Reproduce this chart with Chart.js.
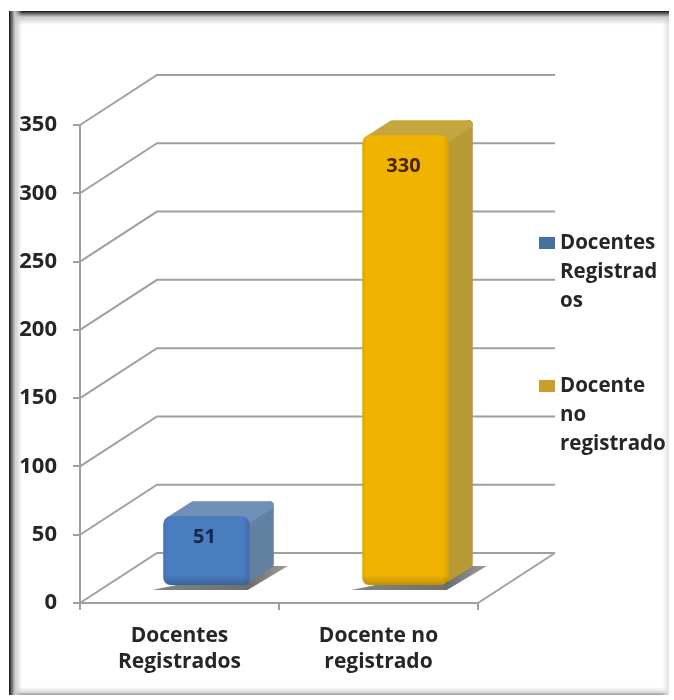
<!DOCTYPE html>
<html>
<head>
<meta charset="utf-8">
<script src="https://cdn.jsdelivr.net/npm/chart.js@4"></script>
<style>
    html, body { margin: 0; padding: 0; background: #fff; }
    #frame {
        position: absolute; left: 9px; top: 11px; width: 660px; height: 684px;
        background:
            linear-gradient(to right, #111 0, #555 2px, #ccc 6px, rgba(255,255,255,0) 13px),
            linear-gradient(to bottom, #111 0, #555 2px, #ccc 6px, rgba(255,255,255,0) 14px),
            linear-gradient(to left, #e4e4e4 0, rgba(255,255,255,0) 7px),
            linear-gradient(to top, #999 0, #ddd 3px, rgba(255,255,255,0) 8px),
            #fff;
    }
    #myChart { position: absolute; left: 0; top: 0; filter: blur(0.5px); }
</style>
</head>
<body>
<div id="frame"></div>
<canvas id="myChart" width="674" height="700"></canvas>
<script>
const categories = [['Docentes', 'Registrados'], ['Docente no', 'registrado']];
const values = [51, 330];
const yTicks = [0, 50, 100, 150, 200, 250, 300, 350];
const legendLabels = [['Docentes', 'Registrad', 'os'], ['Docente', 'no', 'registrado']];

const frontColors = ['#4a7cc0', '#f0b400'];
const sideColors = ['#62809f', '#b89a35'];
const topColors = ['#6f8fb8', '#c4a63f'];
const swatchColors = ['#47709f', '#c89f2c'];
const labelColors = ['#14284a', '#4a2400'];
const labelDrop = [21, 31];

const textColor = '#262626';
const gridColor = '#a0a0a0';
const fontName = '"Open Sans"';

// depth of the box, and where the bars stand on the floor
const wallX = 77, wallY = -50;
const barX = 27, barY = -17;
const sideX = 25, sideY = -16;

function roundedSide(ctx, pts) {
    ctx.beginPath();
    ctx.moveTo(pts[0][0], pts[0][1]);
    for (let i = 1; i < pts.length; i++) ctx.lineTo(pts[i][0], pts[i][1]);
    ctx.closePath();
    ctx.lineJoin = 'round';
    ctx.lineWidth = 8;
    ctx.stroke();
    ctx.fill();
}

const box3d = {
    id: 'box3d',
    beforeDatasetsDraw(chart) {
        const ctx = chart.ctx, a = chart.chartArea, y = chart.scales.y;
        ctx.save();
        // walls
        ctx.strokeStyle = gridColor;
        ctx.lineWidth = 2;
        y.ticks.forEach((t) => {
            const py = y.getPixelForValue(t.value);
            ctx.beginPath();
            ctx.moveTo(a.left, py);
            ctx.lineTo(a.left + wallX, py + wallY);
            ctx.lineTo(a.right + wallX, py + wallY);
            ctx.stroke();
        });
        ctx.beginPath();
        ctx.moveTo(a.right, a.bottom);
        ctx.lineTo(a.right + wallX, a.bottom + wallY);
        ctx.stroke();

        // floor shadows and the sides of the bars
        const bars = chart.getDatasetMeta(0).data;
        bars.forEach((b, i) => {
            const l = b.x - b.width / 2 + barX, r = b.x + b.width / 2 + barX;
            const t = b.y + barY, f = b.base + barY;
            const sh = ctx.createLinearGradient(l, 0, r + 36, 0);
            sh.addColorStop(0, '#7d867c');
            sh.addColorStop(0.7, '#6e6e6e');
            sh.addColorStop(1, '#9a9a9a');
            ctx.fillStyle = sh;
            ctx.beginPath();
            ctx.moveTo(l - 11, f + 5);
            ctx.lineTo(r - 2, f + 5);
            ctx.lineTo(r + 38, f - 19);
            ctx.lineTo(r + 20, f - 19);
            ctx.closePath();
            ctx.fill();

            ctx.fillStyle = sideColors[i];
            ctx.strokeStyle = sideColors[i];
            roundedSide(ctx, [[r - 5, t + 5], [r - 5 + sideX, t + 5 + sideY], [r - 5 + sideX, f - 5 + sideY], [r - 5, f - 5]]);
            ctx.fillStyle = topColors[i];
            ctx.strokeStyle = topColors[i];
            roundedSide(ctx, [[l + 5, t + 5], [l + 5 + sideX, t + 5 + sideY], [r - 5 + sideX, t + 5 + sideY], [r - 5, t + 5]]);
        });
        ctx.restore();
        ctx.save();
        ctx.translate(barX, barY);
    },
    afterDatasetsDraw(chart) {
        const ctx = chart.ctx;
        const bars = chart.getDatasetMeta(0).data;
        // soft bevel on the front faces
        bars.forEach((b) => {
            const l = b.x - b.width / 2, w = b.width;
            const g = ctx.createLinearGradient(l, 0, l + w, 0);
            g.addColorStop(0, 'rgba(0,0,0,0.06)');
            g.addColorStop(0.06, 'rgba(0,0,0,0)');
            g.addColorStop(0.92, 'rgba(0,0,0,0)');
            g.addColorStop(1, 'rgba(0,0,0,0.1)');
            ctx.fillStyle = g;
            ctx.beginPath();
            ctx.roundRect(l, b.y, w, b.base - b.y, 8);
            ctx.fill();
            const g2 = ctx.createLinearGradient(0, b.base - 10, 0, b.base);
            g2.addColorStop(0, 'rgba(0,0,0,0)');
            g2.addColorStop(1, 'rgba(0,0,0,0.2)');
            ctx.fillStyle = g2;
            ctx.beginPath();
            ctx.roundRect(l, b.base - 10, w, 10, 8);
            ctx.fill();
        });
        ctx.restore();

        // value labels
        ctx.save();
        ctx.font = 'bold 20px ' + fontName;
        ctx.textAlign = 'center';
        ctx.textBaseline = 'middle';
        bars.forEach((b, i) => {
            ctx.fillStyle = labelColors[i];
            ctx.fillText(String(values[i]), b.x + barX - 2, b.y + barY + labelDrop[i]);
        });

        // legend
        ctx.font = 'bold 20.5px ' + fontName;
        ctx.textAlign = 'left';
        const starts = [243, 386];
        legendLabels.forEach((lines, i) => {
            ctx.fillStyle = swatchColors[i];
            ctx.fillRect(539, starts[i] - 6, 16, 12);
            ctx.fillStyle = textColor;
            lines.forEach((s, j) => ctx.fillText(s, 560, starts[i] + j * 29));
        });
        ctx.restore();
    }
};

new Chart(document.getElementById('myChart'), {
    type: 'bar',
    data: {
        labels: categories,
        datasets: [{
            data: values,
            backgroundColor: frontColors,
            borderRadius: 8,
            borderSkipped: false,
            barPercentage: 0.87,
            categoryPercentage: 0.5,
            clip: false
        }]
    },
    options: {
        responsive: false,
        animation: false,
        layout: { padding: { top: 125, right: 196 } },
        plugins: { legend: { display: false }, tooltip: { enabled: false } },
        scales: {
            x: {
                afterFit: (s) => { s.height = 97; },
                grid: { drawOnChartArea: false, tickLength: 7, color: gridColor, lineWidth: 2 },
                border: { color: gridColor, width: 2 },
                ticks: { color: textColor, padding: 13, maxRotation: 0, font: { family: fontName, size: 21, weight: 'bold', lineHeight: 1.25 } }
            },
            y: {
                min: 0,
                max: 350,
                afterFit: (s) => { s.width = 80; },
                afterBuildTicks: (s) => { s.ticks = yTicks.map((v) => ({ value: v })); },
                grid: { drawOnChartArea: false, tickLength: 7, color: gridColor, lineWidth: 2 },
                border: { color: gridColor, width: 2 },
                ticks: { color: textColor, padding: 16, font: { family: fontName, size: 22, weight: 'bold' } }
            }
        }
    },
    plugins: [box3d]
});
</script>
</body>
</html>
